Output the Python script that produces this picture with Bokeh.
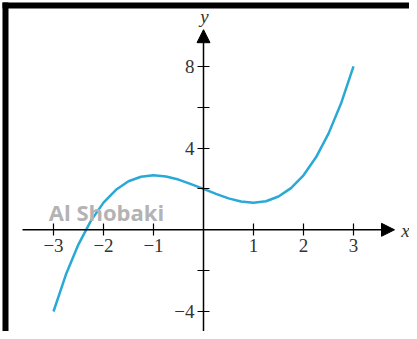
from bokeh.plotting import figure
from bokeh.models import Range1d, LinearAxis, FixedTicker, Arrow, NormalHead, ColumnDataSource
from bokeh.core.properties import value
from bokeh.embed import file_html
from bokeh.resources import INLINE

# data
xs = [-3, -2.75, -2.5, -2.25, -2, -1.75, -1.5, -1.25, -1, -0.75, -0.5, -0.25, 0,
      0.25, 0.5, 0.75, 1, 1.25, 1.5, 1.75, 2, 2.25, 2.5, 2.75, 3]
ys = [-4.0, -2.18, -0.71, 0.45, 1.33, 1.96, 2.38, 2.6, 2.67, 2.61, 2.46, 2.24, 2.0,
      1.76, 1.54, 1.39, 1.33, 1.40, 1.63, 2.04, 2.67, 3.55, 4.71, 6.18, 8.0]
x_ticks = [-3, -2, -1, 1, 2, 3]
x_tick_labels = ["\u22123", "\u22122", "\u22121", "1", "2", "3"]
y_ticks = [-4, -2, 2, 4, 6, 8]
y_tick_labels = ["\u22124", "", "", "4", "", "8"]

W, H = 409, 331
PX, PY = 50.0, 20.42        # pixels per unit
X0, Y0 = 203.0, 229.3       # pixel position of origin
xr = Range1d(-X0 / PX, (W - X0) / PX)
yr = Range1d(-(H - Y0) / PY, Y0 / PY)
p = figure(width=W, height=H, x_range=xr, y_range=yr, output_backend="svg",
           toolbar_location=None, min_border=0, outline_line_color=None,
           x_axis_type=None, y_axis_type=None)
p.grid.visible = False
p.background_fill_color = "white"
p.border_fill_color = "white"

serif = "Liberation Serif"

xa = LinearAxis(fixed_location=0, ticker=FixedTicker(ticks=x_ticks),
                major_label_overrides={t: l for t, l in zip(x_ticks, x_tick_labels)})
ya = LinearAxis(fixed_location=0, ticker=FixedTicker(ticks=y_ticks),
                major_label_overrides={t: l for t, l in zip(y_ticks, y_tick_labels)})
for ax in (xa, ya):
    ax.axis_line_color = None
    ax.major_tick_in = 6
    ax.major_tick_out = 6
    ax.major_tick_line_color = "black"
    ax.major_tick_line_width = 1.2
    ax.minor_tick_line_color = None
    ax.major_label_text_font = serif
    ax.major_label_text_font_size = "19px"
    ax.major_label_text_color = "#333333"
xa.major_label_standoff = 3
ya.major_label_standoff = 3
p.add_layout(xa, "below")
p.add_layout(ya, "left")

# axis arrows
p.add_layout(Arrow(x_start=-3.62, y_start=0, x_end=3.82, y_end=0, line_width=1.5,
                   line_color="black",
                   end=NormalHead(size=13, fill_color="black", line_color="black")))
p.add_layout(Arrow(x_start=0, y_start=-5.2, x_end=0, y_end=9.8, line_width=1.5,
                   line_color="black",
                   end=NormalHead(size=13, fill_color="black", line_color="black")))

# curve
src = ColumnDataSource(dict(x=xs, y=ys))
p.line("x", "y", source=src, line_color="#2aa8d6", line_width=2.5)

# axis names
p.text(x=[4.04], y=[-0.05], text=["x"], text_font=value(serif), text_font_style="italic",
       text_font_size="19px", text_align="center", text_baseline="middle", text_color="#333333")
p.text(x=[0.02], y=[10.45], text=["y"], text_font=value(serif), text_font_style="italic",
       text_font_size="19px", text_align="center", text_baseline="middle", text_color="#333333")

# watermark
p.text(x=[-1.94], y=[0.85], text=["Al Shobaki"], text_font=value("Open Sans"),
       text_font_style="bold", text_font_size="22px", text_align="center",
       text_baseline="middle", text_color="#b3b3b3")

# black frame (top and left), 2..8 px from the edges
p.quad(left=[xr.start + 2 / PX], right=[xr.end], bottom=[(Y0 - 8) / PY], top=[(Y0 - 2) / PY],
       fill_color="black", line_color=None)
p.quad(left=[xr.start + 2 / PX], right=[xr.start + 8 / PX], bottom=[yr.start], top=[(Y0 - 2) / PY],
       fill_color="black", line_color=None)

open("out.html", "w").write(file_html(p, INLINE))
